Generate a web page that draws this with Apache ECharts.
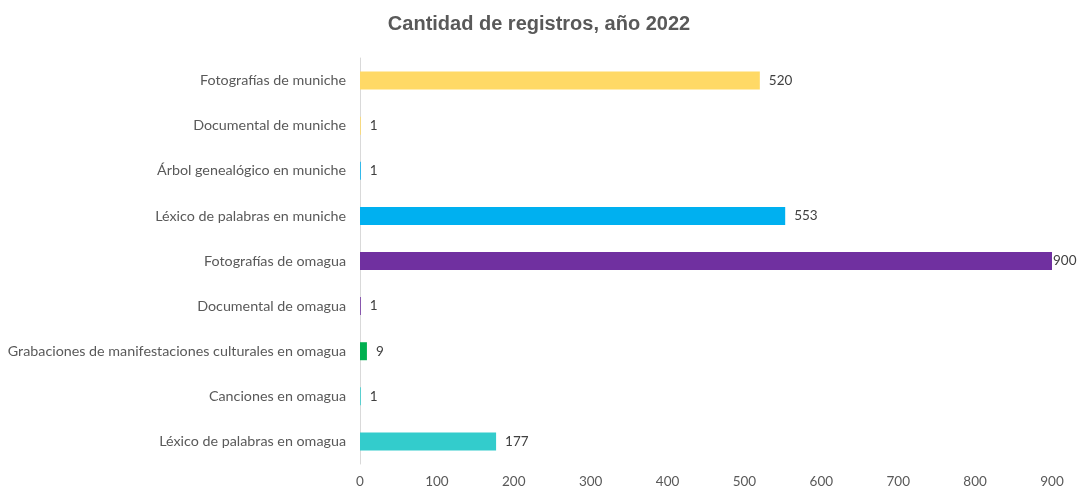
<!DOCTYPE html>
<html>
<head>
<meta charset="utf-8">
<script src="https://cdn.jsdelivr.net/npm/echarts@6/dist/echarts.min.js"></script>
<style>
  html, body { margin: 0; padding: 0; background: #fff; }
  #chart { width: 1078px; height: 489px; }
</style>
</head>
<body>
<div id="chart"></div>
<script>
// bottom to top
const categories = [
  "Léxico de palabras en omagua",
  "Canciones en omagua",
  "Grabaciones de manifestaciones culturales en omagua",
  "Documental de omagua",
  "Fotografías de omagua",
  "Léxico de palabras en muniche",
  "Árbol genealógico en muniche",
  "Documental de muniche",
  "Fotografías de muniche"
];
const values = [177, 1, 9, 1, 900, 553, 1, 1, 520];
const colors = ["#33CCCC", "#33CCCC", "#00B050", "#7030A0", "#7030A0", "#00B0F0", "#00B0F0", "#FFD966", "#FFD966"];
const xTicks = [0, 100, 200, 300, 400, 500, 600, 700, 800, 900];

const chart = echarts.init(document.getElementById("chart"));
chart.setOption({
  animation: false,
  title: {
    text: "Cantidad de registros, año 2022",
    left: "center", top: 9,
    textStyle: { fontFamily: "Liberation Sans", fontSize: 20, fontWeight: "bold", color: "#595959" }
  },
  grid: { left: 360, right: 26, top: 58, bottom: 22, containLabel: false },
  xAxis: {
    type: "value", min: xTicks[0], max: xTicks[xTicks.length - 1], interval: 100,
    axisLine: { show: false }, axisTick: { show: false }, splitLine: { show: false },
    axisLabel: { color: "#595959", fontFamily: "Lato", fontSize: 13.5, margin: 11 }
  },
  yAxis: {
    type: "category", data: categories,
    axisLine: { show: true, lineStyle: { color: "#D9D9D9", width: 1 } },
    axisTick: { show: false },
    axisLabel: { color: "#595959", fontFamily: "Lato", fontSize: 14.3, margin: 14 }
  },
  series: [{
    type: "bar", barWidth: 18,
    data: values.map((v, i) => ({
      value: v,
      itemStyle: { color: colors[i] },
      label: v === 900 ? { distance: 1 } : undefined
    })),
    label: { show: true, position: "right", distance: 9, color: "#404040", fontFamily: "Lato", fontSize: 13.5 }
  }]
});
window.addEventListener("resize", () => chart.resize());
</script>
</body>
</html>
